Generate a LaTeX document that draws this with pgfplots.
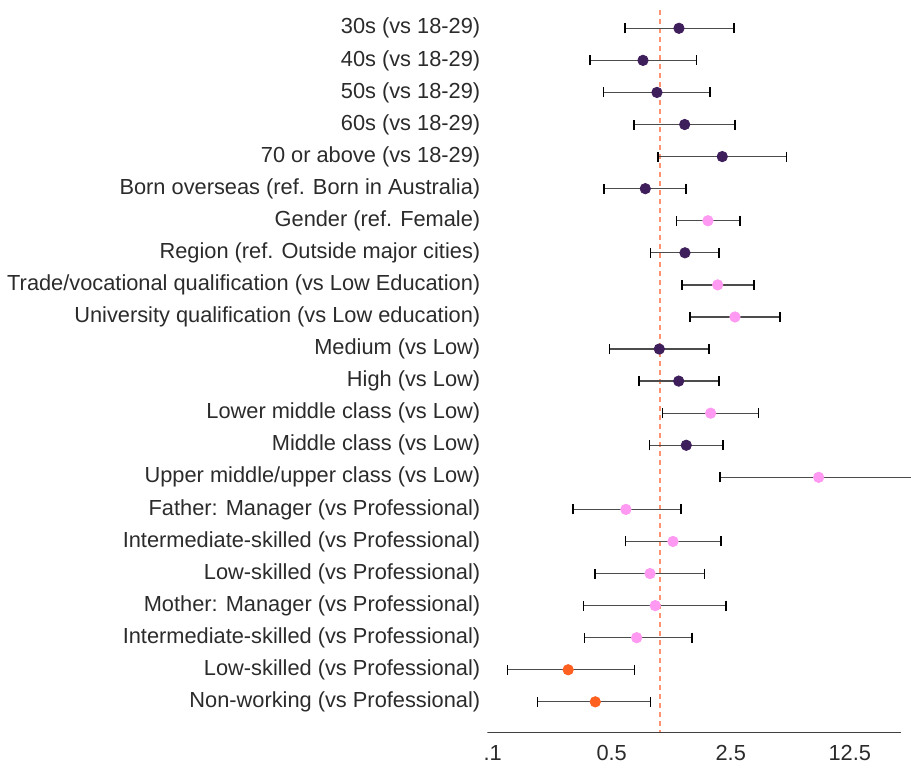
\documentclass[border=0pt]{standalone}
\usepackage{fontspec}
\setmainfont{Liberation Sans}
\usepackage{pgfplots}
\pgfplotsset{compat=1.18}
\usepackage{pgfplotstable}

\definecolor{cpurple}{HTML}{3F1F5B}
\definecolor{cpink}{HTML}{FF99F2}
\definecolor{corange}{HTML}{FF5F1F}
\definecolor{cdash}{HTML}{FF9270}
\definecolor{ctext}{HTML}{2B2B2B}

\pgfplotstableread{
y lo est hi g
1 0.623 1.293 2.720 a
2 0.388 0.795 1.643 a
3 0.467 0.960 1.966 a
4 0.704 1.397 2.757 a
5 0.973 2.322 5.546 a
6 0.471 0.820 1.427 a
7 1.253 1.913 2.961 b
8 0.882 1.402 2.230 a
9 1.346 2.182 3.579 b
10 1.500 2.757 5.065 b
11 0.506 0.991 1.940 a
12 0.753 1.288 2.221 a
13 1.037 1.985 3.798 b
14 0.870 1.427 2.353 a
15 2.251 8.550 33.0 b
16 0.308 0.631 1.328 b
17 0.629 1.192 2.291 b
18 0.417 0.874 1.830 b
19 0.356 0.938 2.451 b
20 0.361 0.730 1.548 b
21 0.127 0.289 0.707 c
22 0.191 0.417 0.882 c
}\data

\begin{document}
\begin{tikzpicture}
\begin{axis}[
  scale only axis,
  width=211.85pt, height=361.15pt,
  xmode=log, log basis x=10,
  xmin=0.0968, xmax=29.8,
  ymin=0.43, ymax=22.95, y dir=reverse,
  axis line style={draw=none},
  major tick length=0pt, minor tick length=0pt,
  xtick={0.1,0.5,2.5,12.5},
  xticklabels={.1,0.5,2.5,12.5},
  xticklabel style={yshift=-3pt, xshift=1.5pt},
  ytick={1,2,...,22},
  yticklabels={
    {30s (vs 18-29)},
    {40s (vs 18-29)},
    {50s (vs 18-29)},
    {60s (vs 18-29)},
    {70 or above (vs 18-29)},
    {Born overseas (ref. Born in Australia)},
    {Gender (ref. Female)},
    {Region (ref. Outside major cities)},
    {Trade/vocational qualification (vs Low Education)},
    {University qualification (vs Low education)},
    {Medium (vs Low)},
    {High (vs Low)},
    {Lower middle class (vs Low)},
    {Middle class (vs Low)},
    {Upper middle/upper class (vs Low)},
    {Father: Manager (vs Professional)},
    {Intermediate-skilled (vs Professional)},
    {Low-skilled (vs Professional)},
    {Mother: Manager (vs Professional)},
    {Intermediate-skilled (vs Professional)},
    {Low-skilled (vs Professional)},
    {Non-working (vs Professional)}
  },
  ticklabel style={font=\fontsize{10.9}{12}\selectfont, text=ctext},
]
\addplot[cdash, line width=0.7pt, dash pattern=on 2.5pt off 2pt, forget plot]
  coordinates {(1,0.43) (1,22.95)};

\addplot[
  only marks, mark=*, mark size=2.6pt,
  scatter, scatter src=explicit symbolic,
  scatter/classes={
    a={mark=*, draw=cpurple, fill=cpurple},
    b={mark=*, draw=cpink, fill=cpink},
    c={mark=*, draw=corange, fill=corange}},
  error bars/.cd,
    x dir=both, x explicit,
    error bar style={black!70, line width=0.65pt},
    error mark options={black, line width=0.8pt, mark size=2.5pt, rotate=90},
] table[x=est, y=y, meta=g,
  x error plus expr=\thisrow{hi}-\thisrow{est},
  x error minus expr=\thisrow{est}-\thisrow{lo}] {\data};

\draw[black!75, line width=0.6pt] (axis cs:0.0968,22.95) -- (axis cs:25.9,22.95);
\end{axis}
\pgfresetboundingbox
\path[use as bounding box] ([xshift=-243.65pt, yshift=-17.5pt]current axis.south west) rectangle ([yshift=5pt]current axis.north east);
\end{tikzpicture}
\end{document}
